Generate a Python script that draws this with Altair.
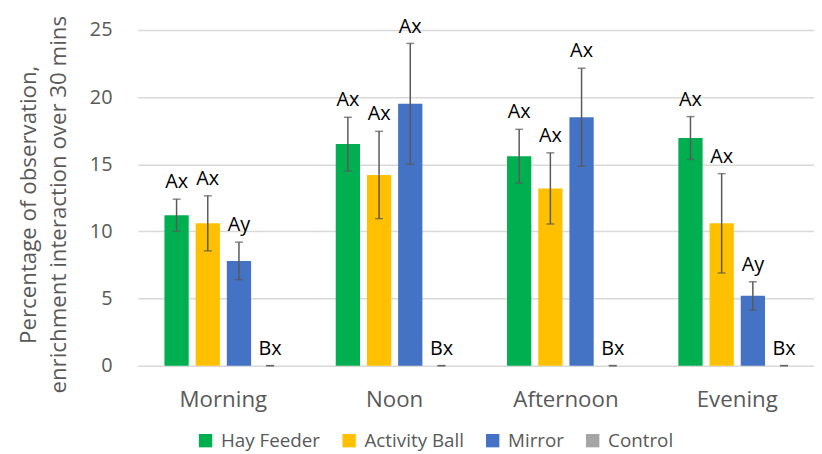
import altair as alt
import pandas as pd

periods = ["Morning", "Noon", "Afternoon", "Evening"]
treatments = ["Hay Feeder", "Activity Ball", "Mirror", "Control"]
colors = ["#00B050", "#FFC000", "#4472C4", "#A5A5A5"]

hay = [11.2, 16.5, 15.6, 16.95]
ball = [10.6, 14.2, 13.2, 10.6]
mirror = [7.8, 19.5, 18.5, 5.2]
control = [0.0, 0.0, 0.0, 0.0]

hay_err = [1.2, 2.0, 2.0, 1.6]
ball_err = [2.05, 3.25, 2.65, 3.7]
mirror_err = [1.4, 4.5, 3.65, 1.05]
control_err = [0.0, 0.0, 0.0, 0.0]

hay_lbl = ["Ax", "Ax", "Ax", "Ax"]
ball_lbl = ["Ax", "Ax", "Ax", "Ax"]
mirror_lbl = ["Ay", "Ax", "Ax", "Ay"]
control_lbl = ["Bx", "Bx", "Bx", "Bx"]

rows = []
for t, vals, errs, lbls in zip(
    treatments,
    [hay, ball, mirror, control],
    [hay_err, ball_err, mirror_err, control_err],
    [hay_lbl, ball_lbl, mirror_lbl, control_lbl],
):
    for p, v, e, l in zip(periods, vals, errs, lbls):
        rows.append({"period": p, "treatment": t, "value": v,
                     "lo": v - e, "hi": v + e, "label": l})
df = pd.DataFrame(rows)

FONT = "Open Sans"
GRAY = "#595959"

yscale = alt.Scale(domain=[0, 25], nice=False, zero=True)

base = alt.Chart(df).encode(
    x=alt.X(
        "period:N",
        sort=periods,
        scale=alt.Scale(range=[0, 692], paddingInner=0.312, paddingOuter=0.156),
        axis=alt.Axis(
            title=None, labelFontSize=22.5, labelColor=GRAY, labelAngle=0,
            ticks=False, tickSize=0, domain=False, labelPadding=41,
            labelBaseline="alphabetic", labelFont=FONT,
        ),
    ),
    xOffset=alt.XOffset(
        "treatment:N", sort=treatments,
        scale=alt.Scale(paddingInner=0.222, paddingOuter=0),
    ),
)

bars = base.mark_bar().encode(
    y=alt.Y(
        "value:Q",
        scale=yscale,
        axis=alt.Axis(
            values=[0, 5, 10, 15, 20, 25],
            title=["Percentage of observation,", "enrichment interaction over 30 mins"],
            titleFontSize=22.5, titleFontWeight="normal", titleColor=GRAY,
            titleFont=FONT, titleX=-98, titleY=176, titleBaseline="bottom",
            titleLineHeight=30, titleAlign="center",
            labelFontSize=20, labelColor=GRAY, labelPadding=26, labelFont=FONT,
            ticks=False, tickSize=0, domain=False,
            grid=True, gridColor="#D9D9D9", gridWidth=1.5,
        ),
    ),
    color=alt.Color(
        "treatment:N",
        scale=alt.Scale(domain=treatments, range=colors),
        legend=alt.Legend(
            title=None, orient="none", legendX=59, legendY=405,
            direction="horizontal", symbolType="square", symbolSize=182,
            symbolStrokeWidth=0, labelFontSize=19, labelColor=GRAY,
            labelFont=FONT, columnPadding=19, labelOffset=6, padding=0,
        ),
    ),
)

rules = base.mark_rule(color=GRAY, strokeWidth=1.5).encode(
    y=alt.Y("lo:Q", scale=yscale), y2="hi:Q"
)
caps_hi = base.mark_tick(color=GRAY, thickness=1.5, size=8, orient="horizontal").encode(
    y=alt.Y("hi:Q", scale=yscale)
)
caps_lo = base.mark_tick(color=GRAY, thickness=1.5, size=8, orient="horizontal").encode(
    y=alt.Y("lo:Q", scale=yscale)
)
texts = base.mark_text(
    dy=-11, baseline="alphabetic", fontSize=20, color="black", font=FONT
).encode(y=alt.Y("hi:Q", scale=yscale), text="label:N")

chart = (
    alt.layer(bars, rules, caps_hi, caps_lo, texts)
    .properties(
        width=683, height=339,
        autosize=alt.AutoSizeParams(type="none"),
        padding={"left": 131, "top": 20, "right": 0, "bottom": 85},
    )
    .configure(font=FONT)
    .configure_view(stroke=None)
)

chart.save("out.html", embed_options={"renderer": "svg", "actions": False})
